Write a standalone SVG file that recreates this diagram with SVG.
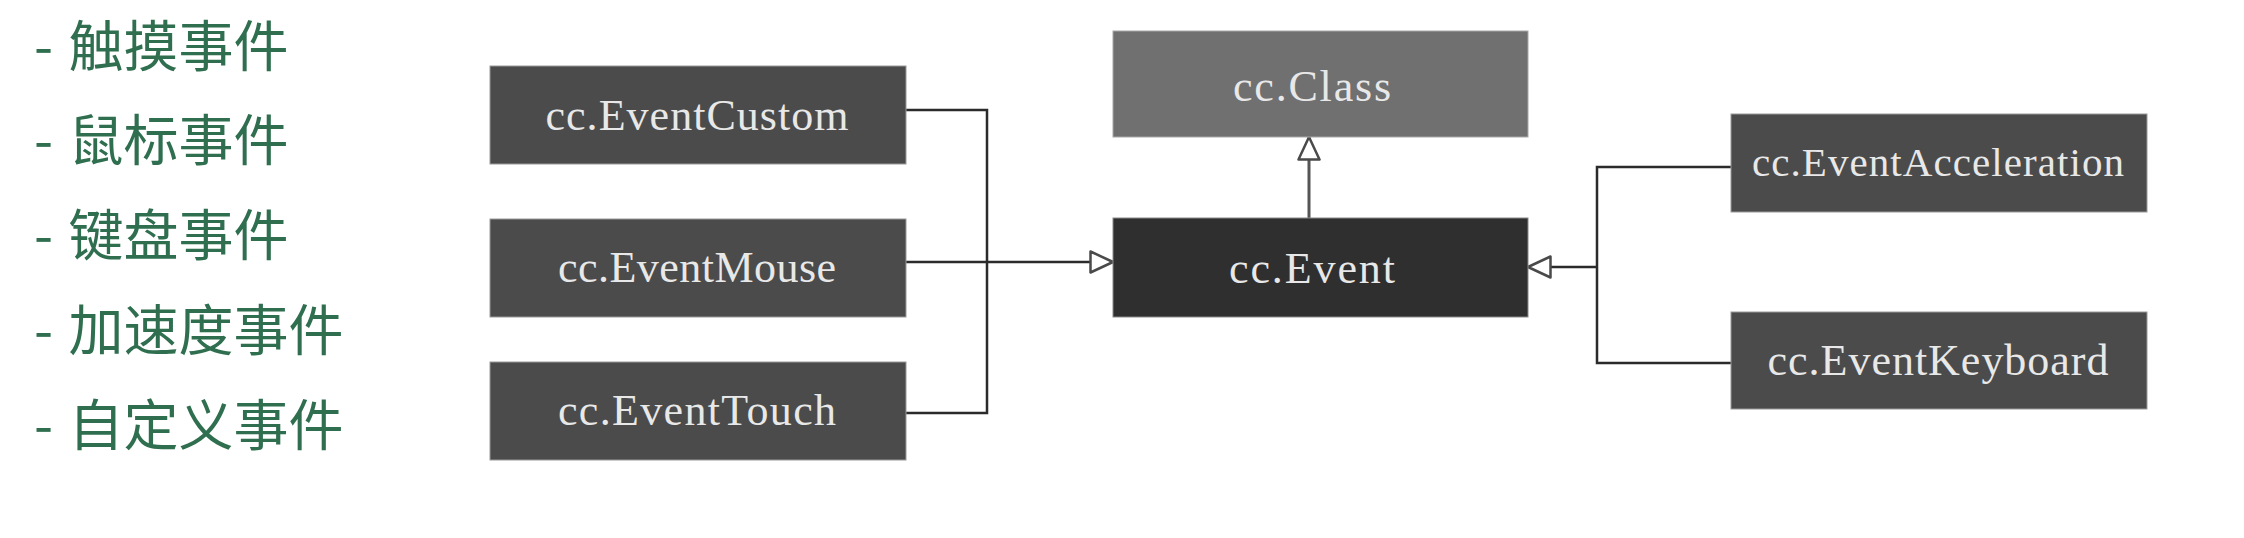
<svg xmlns="http://www.w3.org/2000/svg" width="2244" height="538" viewBox="0 0 2244 538">
  <style>
    .bg { fill: #ffffff; }
    .child { fill: #4b4b4b; stroke: #9a9a9a; stroke-width: 1; }
    .base { fill: #707070; stroke: #a8a8a8; stroke-width: 1; }
    .event { fill: #2f2f2f; stroke: #8a8a8a; stroke-width: 1; }
    .lbl { font-family: "Liberation Serif", "DejaVu Serif", serif; font-size: 44px; fill: #e8e8e8; text-anchor: middle; }
    .cn { font-family: "Noto Sans CJK SC", "Noto Sans", sans-serif; font-size: 55px; fill: #2f6f4f; }
    .wire { fill: none; stroke: #2b2b2b; stroke-width: 2.5; }
    .wire2 { fill: none; stroke: #555555; stroke-width: 3; }
  </style>
  <defs>
    <marker id="tri" viewBox="0 0 26 24" refX="24" refY="12" markerWidth="26" markerHeight="24" markerUnits="userSpaceOnUse" orient="auto">
      <path d="M1.5,1.5 L24,12 L1.5,22.5 Z" fill="#ffffff" stroke="#4a4a4a" stroke-width="2.5" stroke-linejoin="round"/>
    </marker>
  </defs>
  <rect class="bg" x="0" y="0" width="2244" height="538"/>

  <g id="list">
    <text class="cn" x="34" y="66">- <tspan dx="3">触摸事件</tspan></text>
    <text class="cn" x="34" y="160">- <tspan dx="3">鼠标事件</tspan></text>
    <text class="cn" x="34" y="255">- <tspan dx="3">键盘事件</tspan></text>
    <text class="cn" x="34" y="350">- <tspan dx="3">加速度事件</tspan></text>
    <text class="cn" x="34" y="445">- <tspan dx="3">自定义事件</tspan></text>
  </g>

  <g id="connectors">
    <path class="wire" d="M906,110 H987 V413 H906"/>
    <path class="wire" d="M906,262 H1113" marker-end="url(#tri)"/>
    <path class="wire2" d="M1309,218 V137" marker-end="url(#tri)"/>
    <path class="wire" d="M1731,167 H1597 V363 H1731"/>
    <path class="wire" d="M1597,267 H1528" marker-end="url(#tri)"/>
  </g>

  <g id="node-custom">
    <rect class="child" x="490" y="66" width="416" height="98"/>
    <text class="lbl" x="697" y="130" textLength="303">cc.EventCustom</text>
  </g>
  <g id="node-mouse">
    <rect class="child" x="490" y="219" width="416" height="98"/>
    <text class="lbl" x="697" y="282" textLength="278">cc.EventMouse</text>
  </g>
  <g id="node-touch">
    <rect class="child" x="490" y="362" width="416" height="98"/>
    <text class="lbl" x="697" y="425" textLength="278">cc.EventTouch</text>
  </g>
  <g id="node-class">
    <rect class="base" x="1113" y="31" width="415" height="106"/>
    <text class="lbl" x="1312" y="101" textLength="158">cc.Class</text>
  </g>
  <g id="node-event">
    <rect class="event" x="1113" y="218" width="415" height="99"/>
    <text class="lbl" x="1312" y="283" textLength="166">cc.Event</text>
  </g>
  <g id="node-acceleration">
    <rect class="child" x="1731" y="114" width="416" height="98"/>
    <text class="lbl" x="1938" y="176" textLength="372" style="font-size:41px">cc.EventAcceleration</text>
  </g>
  <g id="node-keyboard">
    <rect class="child" x="1731" y="312" width="416" height="97"/>
    <text class="lbl" x="1938" y="375" textLength="341">cc.EventKeyboard</text>
  </g>
</svg>
